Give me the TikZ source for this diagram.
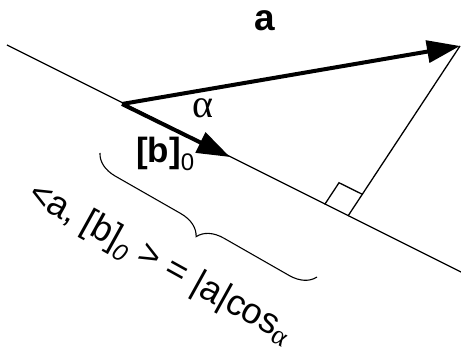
\documentclass[tikz,border=0pt]{standalone}
\usepackage{fontspec}
\setmainfont{Liberation Sans}
\newfontfamily\greekserif{Liberation Serif}
\usetikzlibrary{arrows.meta,calc,decorations.pathreplacing}

\begin{document}
\begin{tikzpicture}[x=1pt, y=-1pt, >={Triangle[length=33pt,width=22pt]}]
    \useasboundingbox (0,0) rectangle (461,352);

    % 直线及关键点
    \coordinate (lineL) at (7,45);
    \coordinate (lineR) at (461,272);
    \coordinate (orig) at (122,104);
    \coordinate (tipA) at (460,46);
    \coordinate (tipB) at (230,157);
    \coordinate (foot) at (348,216);
    \draw[line width=1.3pt] (lineL) -- (lineR);

    % 向量 a 与 [b]_0
    \draw[->, line width=4pt] (orig) -- (tipA);
    \draw[->, line width=4pt] (orig) -- (tipB);

    % 垂线与直角符号
    \draw[line width=1.3pt] (foot) -- (tipA);
    \coordinate (sqA) at ($(foot)!26pt!(orig)$);
    \coordinate (sqC) at ($(foot)!26pt!(tipA)$);
    \draw[line width=1.3pt] (sqA) -- ($(sqA)+(sqC)-(foot)$) -- (sqC);

    % 花括号
    \coordinate (braceL) at (100,153);
    \coordinate (braceR) at (317,277);
    \draw[line width=1.1pt, decorate, decoration={brace, amplitude=25pt, mirror}] (braceL) -- (braceR);

    % 标注
    \node[anchor=base, inner sep=0] (labA) at (265,31) {\fontsize{37}{37}\selectfont\bfseries a};
    \node[anchor=base, inner sep=0] (labAlpha) at (203,118) {\fontsize{40}{40}\selectfont\greekserif α};
    \node[anchor=base west, inner sep=0] (labB) at (136,163)
        {\fontsize{35}{35}\selectfont\bfseries [b]\raisebox{-8pt}{\fontsize{24}{24}\selectfont\mdseries 0}};
    \node[rotate=-29, inner sep=0] (labProj) at (160,264)
        {\fontsize{36}{36}\selectfont <a, [b]\raisebox{-8pt}{\fontsize{24}{24}\selectfont\itshape 0} > = |a|cos\raisebox{-5pt}{\fontsize{28}{28}\selectfont\greekserif α}};
\end{tikzpicture}
\end{document}
